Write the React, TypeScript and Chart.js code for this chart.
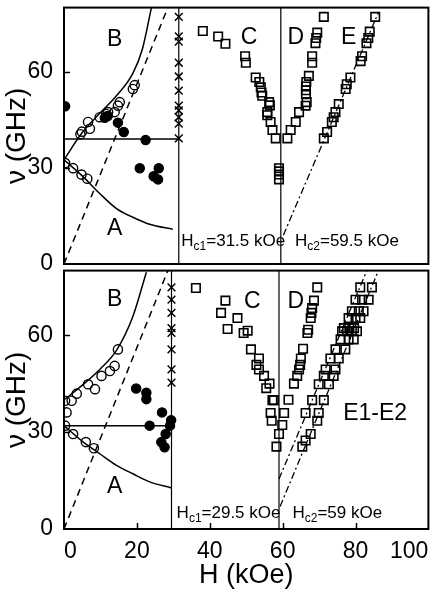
import React, { useEffect, useRef } from 'react';
import { Chart, registerables } from 'chart.js';

Chart.register(...registerables);

const FONT = '"Liberation Sans", Arial, Helvetica, sans-serif';

// ---- axes ----
const xTicks = [0, 20, 40, 60, 80, 100];
const yTicks = [0, 30, 60];
const H_RANGE = [0, 100];
const NU_RANGE = [0, 80];

// ---- top panel data ----
const topHc1 = 31.5;
const topHc2 = 59.5;
const topGap = 39;
const topOpen: [number, number][] = [
  [0.3, 31.5], [2.5, 29.9], [4.8, 27.9], [6.4, 26.6],
  [4.5, 40.5], [4.9, 41.3], [7.1, 42.2], [6.6, 44.3], [9.8, 45.8], [11.6, 46.8],
  [12.1, 47.4], [13.9, 47.4], [14.8, 49.4], [15.3, 50.5], [18.9, 54.6], [19.4, 55.8],
];
const topFilled: [number, number][] = [
  [0.3, 49.2], [11.2, 45.6], [12, 46.2], [14.8, 44.1], [16.4, 41.2], [22.4, 38.7],
  [20.8, 29.9], [24.6, 27.4], [26, 29.9], [25.8, 26.4],
];
const topCrossNu = [77.1, 71, 69.4, 62.8, 58.5, 54.1, 49.4, 47.9, 45.8, 43.8, 39.2];
const topSquaresC: [number, number][] = [
  [38.1, 72.7], [42.3, 71], [44.3, 68.7], [49.7, 64.8], [49.9, 62.8], [52.6, 58.2],
  [53.6, 56.8], [54, 55.1], [54.2, 53.5], [54.4, 52.5], [56.3, 50.5], [56.5, 49.5],
  [55.8, 47.4], [55.8, 46.4], [56.7, 44.3], [57.2, 41.8], [58.1, 39.2],
  [59, 29.9], [59, 28.9], [59, 27.9], [59, 26.4],
];
const topSquaresD: [number, number][] = [
  [61.3, 39.2], [62.2, 41.8], [63.6, 44.3], [64.5, 47.4], [66.3, 49.4], [66.6, 50.5],
  [66.4, 53], [66.4, 54.2], [66.4, 55.4], [66.5, 56.8], [67.2, 58.7], [68.1, 62.8],
  [68.1, 64.8], [69, 68.9], [69.2, 70.5], [69.5, 72.2], [71.3, 77.1],
];
const topSquaresE: [number, number][] = [
  [71.3, 39.2], [72.2, 41.2], [73.5, 44.3], [74, 45.8], [74.5, 47.4], [75.4, 49.9],
  [77.3, 54.6], [77.6, 56.1], [78.6, 58.2], [81.4, 63.3], [81.8, 64.8], [83, 68.9],
  [83.5, 70.5], [83.9, 72.5], [85.4, 77.1],
];
const topCurveB: [number, number][] = [
  [0, 32.5], [4.8, 40.7], [9.8, 47], [14.4, 52.5], [18.9, 59.5], [21.5, 67], [24, 80],
];
const topCurveA: [number, number][] = [
  [0, 32.5], [5, 27.5], [9.8, 22], [14.4, 17.3], [18.9, 14.6], [23.5, 12.4], [29.9, 10.8],
];
const topDashed: [number, number][] = [[0, 0], [28.5, 80]];
const topDashDot: [number, number][] = [[60.2, 9], [86.3, 78.5]];

// ---- bottom panel data ----
const botHc1 = 29.5;
const botHc2 = 59;
const botGap = 32;
const botOpen: [number, number][] = [
  [0.3, 39.7], [0.7, 36.1], [2.1, 39.7], [3.5, 41.9], [6.6, 44.8], [8.5, 43.3],
  [10.3, 47.4], [12.6, 48.9], [13.9, 50.5], [14.8, 55.6],
  [0.3, 32], [2.5, 29.4], [6, 26.9], [8.2, 25],
];
const botFilled: [number, number][] = [
  [19.8, 43.5], [22.6, 42.2], [22.6, 40.2], [23.5, 32], [26.9, 36.1], [29.4, 33.7],
  [29.1, 32], [27.9, 29.4], [26.7, 26.9], [27.6, 25.3],
];
const botCrossNu = [74.8, 71, 66.9, 62.2, 60.7, 55.6, 49.4, 45.3];
const botSquaresC: [number, number][] = [
  [36.2, 74.6], [44.3, 70.7], [43.1, 66.9], [47.6, 65.3], [44.9, 61.9], [49.3, 60.7],
  [50.4, 61.4], [51.3, 55.6], [53.5, 52.8], [52.8, 50.8], [53.5, 49.4], [54.9, 47.4],
  [56.4, 45], [55.5, 43.6], [57.2, 39.9], [57.6, 39.9], [56.7, 35.9], [57, 33.5],
  [60.4, 35.9], [59.9, 32.2], [59, 29.4], [58.3, 25.5],
];
const botSquaresD: [number, number][] = [
  [61.6, 40], [63.1, 45], [64, 47.4], [64.5, 49.4], [64.8, 50.8], [65, 52.8], [65.6, 55.8],
  [66.8, 60.7], [67, 61.7], [67.7, 65.3], [67.9, 66.9], [68.1, 68.4], [68.6, 70.7], [69.5, 74.8],
];
const botSquaresE: [number, number][] = [
  [65.4, 25.5], [66.3, 27.4], [67.7, 29.4], [69.5, 33.5], [66.3, 35.9], [69.9, 35.9],
  [68.1, 39.9], [71.3, 39.9], [69.9, 44.8], [72.7, 44.8], [71.3, 47.4], [74, 47.4],
  [71.8, 49.4], [74.5, 49.4], [73.1, 52.8], [75.4, 52.8], [74.5, 55.6], [77.2, 55.6],
  [75.9, 58.7], [78.1, 58.7], [79.5, 58.7], [76.3, 61.2], [77.7, 61.2], [79, 61.2],
  [80.4, 61.2], [76.8, 62.2], [78.3, 62.2], [79.6, 62.2], [78.1, 65.3], [80, 65.3],
  [81.3, 65.3], [79, 67.4], [80.9, 67.4], [82.2, 67.4], [80, 71], [81.8, 71], [83.6, 71],
  [81.3, 74.8], [84.5, 74.8],
];
const botCurveB: [number, number][] = [
  [0, 40], [4.8, 44.3], [9.8, 49.4], [14.4, 55.3], [18.9, 65.8], [22.6, 79.5],
];
const botCurveA: [number, number][] = [
  [0, 32], [5.3, 26.9], [9.8, 23.3], [14.4, 19.7], [18.9, 17.1], [23.5, 14.6], [29.5, 12.7],
];
const botDashed: [number, number][] = [[0, 0], [28.5, 80]];
const botDashDot1: [number, number][] = [[59, 15.5], [83.1, 80]];
const botDashDot2: [number, number][] = [[59.3, 7], [86.3, 80]];

// ---- annotations (data coordinates) ----
type Lab = { text: string; h: number; nu: number };
type SubLab = { main: string; sub: string; rest: string; h: number; nu: number };
const topLetters: Lab[] = [
  { text: 'B', h: 13.9, nu: 69.9 }, { text: 'A', h: 13.9, nu: 11.1 },
  { text: 'C', h: 50.8, nu: 70.5 }, { text: 'D', h: 63.6, nu: 70.5 }, { text: 'E', h: 78.1, nu: 70.5 },
];
const topFieldLabels: SubLab[] = [
  { main: 'H', sub: 'c1', rest: '=31.5 kOe', h: 32.2, nu: 7.4 },
  { main: 'H', sub: 'c2', rest: '=59.5 kOe', h: 63.4, nu: 7.4 },
];
const botLetters: Lab[] = [
  { text: 'B', h: 13.9, nu: 71.1 }, { text: 'A', h: 13.9, nu: 13 },
  { text: 'C', h: 51.7, nu: 70.5 }, { text: 'D', h: 63.6, nu: 70.5 }, { text: 'E1-E2', h: 85.4, nu: 35.6 },
];
const botFieldLabels: SubLab[] = [
  { main: 'H', sub: 'c1', rest: '=29.5 kOe', h: 30.9, nu: 5.3 },
  { main: 'H', sub: 'c2', rest: '=59 kOe', h: 62.7, nu: 5.3 },
];

const pts = (a: [number, number][]) => a.map(([x, y]) => ({ x, y }));
const vline = (h: number) => pts([[h, NU_RANGE[0]], [h, NU_RANGE[1]]]);

function lineDs(data: any[], dash: number[] = [], width = 1.5, curved = false) {
  return {
    data, showLine: true, borderColor: '#000', borderWidth: width, borderDash: dash,
    pointRadius: 0, pointHoverRadius: 0, fill: false,
    tension: 0, cubicInterpolationMode: curved ? 'monotone' : 'default',
  };
}
function markerDs(data: any[], style: string, radius: number, filled: boolean, bw = 1.3) {
  return {
    data, showLine: false, pointStyle: style, pointRadius: radius, pointHoverRadius: radius,
    pointBorderColor: '#000', pointBorderWidth: bw,
    pointBackgroundColor: filled ? '#000' : 'rgba(0,0,0,0)',
  };
}

function buildDatasets(p: any) {
  return [
    markerDs(pts(p.filled), 'circle', 4.6, true),
    markerDs(pts(p.open), 'circle', 4.6, false, 1.4),
    markerDs(pts([...p.sqC, ...p.sqD, ...p.sqE]), 'rect', 6, false, 1.6),
    markerDs(p.crossNu.map((v: number) => ({ x: p.hc1, y: v })), 'crossRot', 5.5, false, 1.5),
    lineDs(pts(p.curveB), [], 1.5, true),
    lineDs(pts(p.curveA), [], 1.5, true),
    lineDs(pts(p.dashed), [7, 5], 1.5),
    lineDs(pts([[0, p.gap], [p.hc1, p.gap]]), [], 1.5),
    lineDs(vline(p.hc1), [], 1.2),
    lineDs(vline(p.hc2), [], 1.2),
    ...p.dashDot.map((d: [number, number][]) => lineDs(pts(d), [7, 3, 2, 3], 1.3)),
  ];
}

function decorPlugin(letters: Lab[], fieldLabels: SubLab[], showXTicks: boolean) {
  return {
    id: 'decor',
    afterDatasetsDraw(chart: any) {
      const { ctx, chartArea } = chart;
      const { left, right, top, bottom } = chartArea;
      const xs = chart.scales.x;
      const ys = chart.scales.y;
      ctx.save();
      ctx.strokeStyle = '#000';
      ctx.lineWidth = 2;
      ctx.setLineDash([]);
      ctx.strokeRect(left, top, right - left, bottom - top);
      ctx.lineWidth = 1.5;
      ctx.beginPath();
      for (const v of yTicks) {
        if (v === NU_RANGE[0]) continue;
        const py = Math.round(ys.getPixelForValue(v)) + 0.5;
        ctx.moveTo(left, py);
        ctx.lineTo(left + 6, py);
      }
      if (showXTicks) {
        for (const v of xTicks) {
          if (v === H_RANGE[0] || v === H_RANGE[1]) continue;
          const px = Math.round(xs.getPixelForValue(v)) + 0.5;
          ctx.moveTo(px, bottom);
          ctx.lineTo(px, bottom - 6);
        }
      }
      ctx.stroke();
      ctx.fillStyle = '#000';
      ctx.textAlign = 'center';
      ctx.textBaseline = 'middle';
      ctx.font = `23px ${FONT}`;
      for (const l of letters) {
        ctx.fillText(l.text, xs.getPixelForValue(l.h), ys.getPixelForValue(l.nu));
      }
      ctx.textAlign = 'left';
      ctx.textBaseline = 'alphabetic';
      for (const f of fieldLabels) {
        let x = xs.getPixelForValue(f.h);
        const y = ys.getPixelForValue(f.nu) + 6;
        ctx.font = `17px ${FONT}`;
        ctx.fillText(f.main, x, y);
        x += ctx.measureText(f.main).width;
        ctx.font = `12px ${FONT}`;
        ctx.fillText(f.sub, x, y + 4);
        x += ctx.measureText(f.sub).width;
        ctx.font = `17px ${FONT}`;
        ctx.fillText(f.rest, x, y);
      }
      ctx.restore();
    },
  };
}

function options(isBottom: boolean) {
  return {
    responsive: true,
    maintainAspectRatio: false,
    animation: false,
    devicePixelRatio: 1,
    events: [],
    layout: { padding: { left: 0, right: 6, top: isBottom ? 0 : 4, bottom: isBottom ? 0 : 16 } },
    plugins: { legend: { display: false }, tooltip: { enabled: false } },
    scales: {
      x: {
        type: 'linear', min: H_RANGE[0], max: H_RANGE[1], display: isBottom,
        afterBuildTicks: (s: any) => { s.ticks = xTicks.map((v) => ({ value: v })); },
        grid: { display: false }, border: { display: false },
        ticks: { align: 'inner', padding: 1, color: '#000', font: { family: FONT, size: 23 }, maxRotation: 0, autoSkip: false },
        title: { display: true, text: 'H (kOe)', color: '#000', font: { family: FONT, size: 27 }, padding: 0 },
        afterFit: (s: any) => {
          s.height = isBottom ? 63 : 0;
          s.paddingLeft = 0; s.paddingRight = 0;
        },
      },
      y: {
        type: 'linear', min: NU_RANGE[0], max: NU_RANGE[1],
        afterBuildTicks: (s: any) => { s.ticks = yTicks.map((v) => ({ value: v })); },
        grid: { display: false }, border: { display: false },
        ticks: { padding: 3, color: '#000', font: { family: FONT, size: 23 } },
        title: { display: true, text: 'ν (GHz)', color: '#000', font: { family: FONT, size: 28 }, padding: 0 },
        afterFit: (s: any) => { s.width = 64; s.paddingTop = 0; s.paddingBottom = 0; },
      },
    },
  };
}

export default function App() {
  const topRef = useRef<HTMLCanvasElement>(null);
  const botRef = useRef<HTMLCanvasElement>(null);

  useEffect(() => {
    const top = new Chart(topRef.current as HTMLCanvasElement, {
      type: 'scatter',
      data: {
        datasets: buildDatasets({
          filled: topFilled, open: topOpen, sqC: topSquaresC, sqD: topSquaresD, sqE: topSquaresE,
          crossNu: topCrossNu, hc1: topHc1, hc2: topHc2, gap: topGap, curveA: topCurveA, curveB: topCurveB,
          dashed: topDashed, dashDot: [topDashDot],
        }) as any,
      },
      options: options(false) as any,
      plugins: [decorPlugin(topLetters, topFieldLabels, false)],
    });
    const bot = new Chart(botRef.current as HTMLCanvasElement, {
      type: 'scatter',
      data: {
        datasets: buildDatasets({
          filled: botFilled, open: botOpen, sqC: botSquaresC, sqD: botSquaresD, sqE: botSquaresE,
          crossNu: botCrossNu, hc1: botHc1, hc2: botHc2, gap: botGap, curveA: botCurveA, curveB: botCurveB,
          dashed: botDashed, dashDot: [botDashDot1, botDashDot2],
        }) as any,
      },
      options: options(true) as any,
      plugins: [decorPlugin(botLetters, botFieldLabels, true)],
    });
    return () => { top.destroy(); bot.destroy(); };
  }, []);

  return (
    <div style={{ position: 'fixed', left: 0, top: 0, width: 436, height: 592, background: '#fff' }}>
      <div style={{ position: 'absolute', left: 0, top: 0, width: 436, height: 280 }}>
        <canvas ref={topRef} />
      </div>
      <div style={{ position: 'absolute', left: 0, top: 263, width: 436, height: 329 }}>
        <canvas ref={botRef} />
      </div>
    </div>
  );
}
